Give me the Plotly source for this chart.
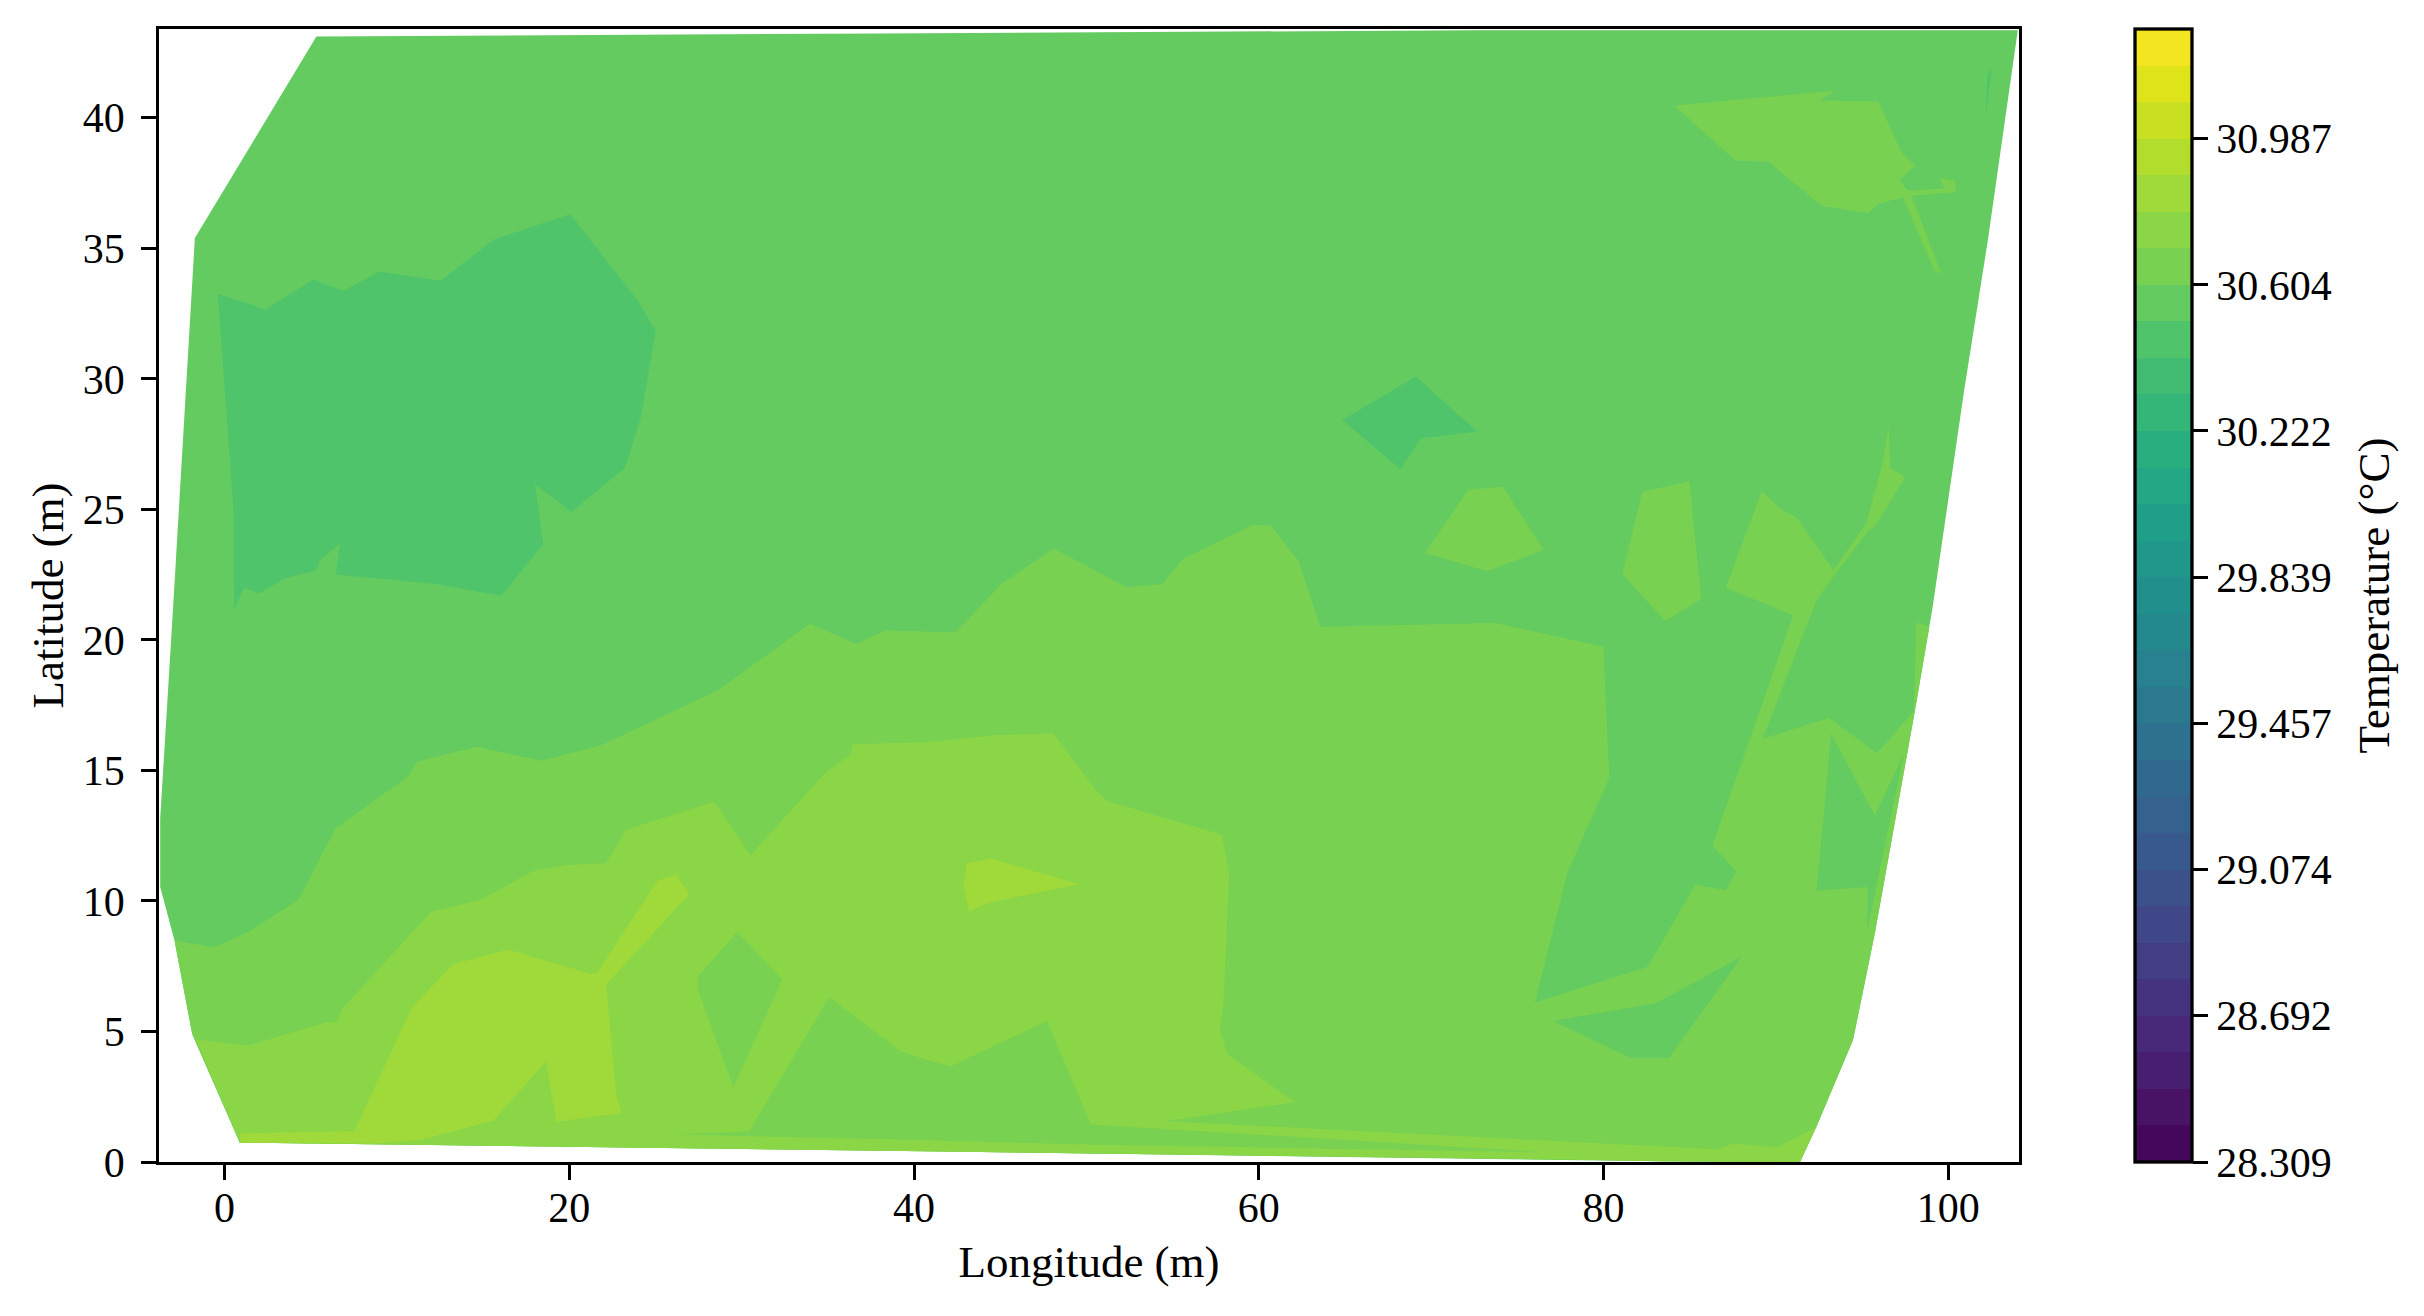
import plotly.graph_objects as go
from plotly.colors import sample_colorscale

# Colour bar
temp_min = 28.309
band_step = 0.095625
band_count = 31
tick_values = [28.309, 28.692, 29.074, 29.457, 29.839, 30.222, 30.604, 30.987]
tick_labels = ["28.309", "28.692", "29.074", "29.457", "29.839", "30.222", "30.604", "30.987"]
viridis_stops = ["#440154", "#481567", "#482677", "#453781", "#404788", "#39568c", "#33638d", "#2d708e", "#287d8e",
                 "#238a8d", "#1f968b", "#20a387", "#29af7f", "#3cbb75", "#55c667", "#73d055", "#95d840", "#b8de29",
                 "#dce319", "#fde725"]
# Colours of the bands seen in the map
seen_bands = {22: "#50c46a", 23: "#63cb5f", 24: "#79d151", 25: "#8bd646", 26: "#a0da3a"}

# Temperature band outlines, as (longitude, latitude)
hull = [(5.33, 43.11), (-1.72, 35.39), (-2.99, 21.15), (-3.73, 13.17), (-3.73, 10.53), (-2.9, 8.48),
        (-1.87, 4.89), (0.89, 0.74), (40.65, 0.41), (78.85, 0.09), (83.3, 0.03), (91.4, 0.0), (92.36, 1.37),
        (94.47, 4.67), (95.74, 8.77), (98.06, 17.28), (99.1, 21.3), (100.9, 29.48), (102.3, 35.34),
        (104.03, 43.35), (72.5, 43.35), (38.0, 43.23)]

cool_west = [(-0.39, 33.26), (2.37, 32.66), (5.16, 33.8), (6.9, 33.36), (8.95, 34.1), (12.53, 33.76),
             (15.64, 35.34), (20.06, 36.3), (24.06, 32.92), (25.01, 31.82), (24.15, 28.52), (23.23, 26.59),
             (20.12, 24.9), (18.01, 25.96), (18.49, 23.66), (16.06, 21.69), (12.15, 22.15), (6.46, 22.5),
             (6.7, 23.69), (5.54, 23.05), (5.3, 22.66), (3.47, 22.34), (2.01, 21.78), (1.13, 22.0),
             (0.56, 21.16), (0.53, 24.93)]
cool_centre = [(64.84, 28.42), (69.11, 30.09), (72.65, 27.98), (69.41, 27.72), (68.21, 26.54)]
cool_east = [(102.52, 41.87), (102.27, 41.57), (102.16, 40.03)]

warm_north = [(84.1, 40.47), (93.42, 41.03), (92.51, 40.66), (95.94, 40.62), (97.31, 38.64), (98.08, 38.17),
              (97.17, 37.61), (97.67, 37.2), (99.78, 37.29), (99.5, 37.69), (100.41, 37.57), (100.41, 37.16),
              (97.86, 37.01), (99.59, 34.02), (99.23, 34.1), (97.37, 36.95), (95.94, 36.71), (95.39, 36.34),
              (92.65, 36.62), (89.56, 38.32), (87.64, 38.36)]
warm_isle_a = [(72.15, 25.75), (74.15, 25.87), (76.54, 23.44), (73.25, 22.64), (69.63, 23.32)]
warm_isle_b = [(82.24, 25.66), (84.98, 26.08), (85.66, 21.56), (83.58, 20.72), (81.09, 22.51)]
warm_main = [(-2.9, 8.48), (-0.59, 8.23), (1.39, 8.82), (4.3, 10.05), (6.43, 12.78), (10.67, 14.78), (11.17, 15.34),
             (14.64, 15.91), (18.37, 15.37), (21.84, 15.96), (28.65, 18.08), (33.98, 20.62), (36.65, 19.84),
             (38.37, 20.36), (42.4, 20.28), (45.06, 22.14), (48.11, 23.5), (52.33, 22.02), (54.4, 22.14),
             (55.57, 23.09), (59.6, 24.39), (60.68, 24.39), (62.3, 23.03), (63.56, 20.5), (73.69, 20.65),
             (79.99, 19.74), (80.33, 14.71), (77.92, 11.12), (76.02, 6.11), (82.56, 7.48), (85.31, 10.61),
             (87.08, 10.42), (87.71, 11.12), (86.32, 12.12), (91.0, 20.94), (87.09, 22.0), (89.17, 25.69),
             (90.32, 25.0), (91.23, 24.68), (93.34, 22.66), (95.26, 24.49), (96.21, 26.84), (96.54, 28.19),
             (96.63, 26.59), (97.5, 26.22), (95.67, 24.27), (95.39, 24.2), (93.34, 22.44), (92.36, 21.53),
             (89.23, 16.21), (93.08, 17.01), (95.87, 15.66), (98.0, 17.28), (98.14, 20.68), (98.9, 20.5),
             (98.06, 17.28), (95.74, 8.77), (94.47, 4.67), (92.36, 1.37), (91.4, 0.0), (83.3, 0.03), (78.85, 0.09),
             (40.65, 0.41), (0.89, 0.74), (-1.87, 4.89)]
hole_south = [(77.07, 5.4), (83.07, 6.09), (88.0, 7.86), (83.79, 3.98), (81.59, 3.98)]
hole_east = [(92.36, 10.39), (93.2, 16.4), (95.74, 13.27), (97.43, 15.66), (95.31, 8.92), (95.31, 10.53)]

warmer_main = [(-1.66, 4.7), (1.3, 4.45), (5.84, 5.33), (6.49, 5.36), (6.79, 5.84), (11.97, 9.58), (14.87, 10.05),
               (17.93, 11.15), (19.91, 11.38), (22.13, 11.44), (23.32, 12.73), (28.41, 13.8), (30.52, 11.74),
               (34.87, 14.93), (36.3, 15.59), (36.44, 16.0), (40.65, 16.08), (44.64, 16.35), (48.1, 16.41),
               (50.55, 14.24), (51.19, 13.83), (57.86, 12.54), (58.28, 10.97), (57.94, 5.99), (57.73, 5.11),
               (58.15, 4.15), (62.08, 2.29), (54.56, 1.56), (86.66, 0.49), (87.5, 0.71), (90.04, 0.56),
               (92.27, 1.3), (91.4, 0.0), (83.3, 0.03), (78.85, 0.09), (40.65, 0.41), (0.89, 0.74)]
strip_south = [(35.08, 6.32), (39.23, 4.23), (40.65, 3.93), (42.11, 3.67), (47.72, 5.4), (50.26, 1.44),
               (76.73, 0.37), (50.55, 0.66), (39.15, 0.86), (26.13, 1.05), (30.43, 1.18)]
diamond = [(29.75, 8.82), (32.36, 6.98), (29.51, 2.84), (27.47, 6.57), (27.47, 7.12)]

hot_main = [(10.87, 5.91), (13.24, 7.57), (16.44, 8.14), (21.24, 7.2), (21.6, 7.23), (25.13, 10.78), (26.19, 11.0),
            (26.96, 10.27), (22.13, 6.79), (22.73, 2.54), (23.02, 1.88), (19.26, 1.54), (18.64, 3.86), (15.61, 1.59),
            (11.47, 0.86), (8.65, 0.71), (0.89, 0.74), (0.95, 1.1), (7.53, 1.18)]
hot_isle = [(43.04, 11.44), (44.47, 11.63), (49.54, 10.64), (44.3, 9.92), (43.2, 9.61), (42.87, 10.53)]

# Paint order, each with the index of its temperature band
layers = [(hull, 23), (cool_west, 22), (cool_centre, 22), (cool_east, 22), (warm_north, 24), (warm_isle_a, 24),
          (warm_isle_b, 24), (warm_main, 24), (hole_south, 23), (hole_east, 23), (warmer_main, 25),
          (strip_south, 24), (diamond, 24), (hot_main, 26), (hot_isle, 26)]

viridis = [[i / (len(viridis_stops) - 1), c] for i, c in enumerate(viridis_stops)]
band_colors = sample_colorscale(viridis, [(i + 0.5) / band_count for i in range(band_count)], colortype="rgb")
for index, colour in seen_bands.items():
    band_colors[index] = colour
stepped = []
for i, colour in enumerate(band_colors):
    stepped += [[i / band_count, colour], [(i + 1) / band_count, colour]]

FONT = "Liberation Serif"
SIZE = 42
TITLE_SIZE = 45
LINE = 3.3

fig = go.Figure()
for outline, band in layers:
    fig.add_trace(go.Scatter(
        x=[p[0] for p in outline] + [outline[0][0]],
        y=[p[1] for p in outline] + [outline[0][1]],
        mode="lines", line=dict(width=0), fill="toself", fillcolor=band_colors[band],
        hoverinfo="skip", showlegend=False))

fig.add_trace(go.Scatter(
    x=[hull[0][0]], y=[hull[0][1]], mode="markers", showlegend=False, hoverinfo="skip",
    marker=dict(
        size=1, opacity=0, color=[temp_min], colorscale=stepped, cmin=temp_min,
        cmax=temp_min + band_count * band_step, showscale=True,
        colorbar=dict(
            x=(2135 - 159) / (2019 - 159), xanchor="left", y=0, yanchor="bottom",
            lenmode="fraction", len=1, thicknessmode="pixels", thickness=57, xpad=0, ypad=0,
            outlinewidth=LINE, outlinecolor="black",
            tickmode="array", tickvals=tick_values, ticktext=tick_labels,
            ticks="outside", ticklen=14.6, tickwidth=LINE, tickcolor="black",
            tickfont=dict(family=FONT, size=SIZE, color="black")))))

axis_style = dict(showgrid=False, zeroline=False, showline=True, mirror=True, linecolor="black", linewidth=LINE,
                  ticks="outside", ticklen=14.6, tickwidth=LINE, tickcolor="black",
                  tickfont=dict(family=FONT, size=SIZE, color="black"))
fig.update_layout(
    width=2424, height=1316, autosize=False, paper_bgcolor="white", plot_bgcolor="white",
    margin=dict(l=159, r=405, t=29, b=154),
    xaxis=dict(range=[-3.8, 104.1], tickvals=[0, 20, 40, 60, 80, 100], ticklabelstandoff=-8,
               title=dict(text="Longitude (m)", font=dict(family=FONT, size=TITLE_SIZE, color="black"), standoff=16), **axis_style),
    yaxis=dict(range=[0, 43.4], tickvals=[0, 5, 10, 15, 20, 25, 30, 35, 40], ticklabelstandoff=8,
               title=dict(text="Latitude (m)", font=dict(family=FONT, size=TITLE_SIZE, color="black"), standoff=6), **axis_style),
    annotations=[dict(text="Temperature (°C)", textangle=-90, xref="paper", yref="paper", x=(2373 - 159) / (2019 - 159),
                      y=0.5, showarrow=False, xanchor="center", yanchor="middle",
                      font=dict(family=FONT, size=TITLE_SIZE, color="black"))])

fig.write_html("out.html", post_script="document.body.style.margin='0';", config={"displayModeBar": False})
